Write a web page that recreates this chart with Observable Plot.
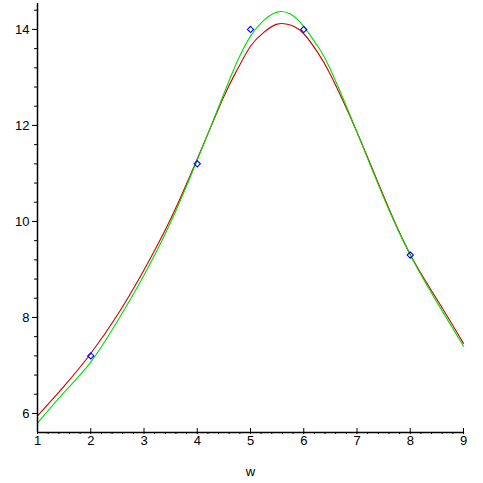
<!DOCTYPE html>
<html>
<head>
<meta charset="utf-8">
<script src="https://cdn.jsdelivr.net/npm/d3@7"></script>
<script src="https://cdn.jsdelivr.net/npm/@observablehq/plot@0.6"></script>
<style>
  html, body { margin: 0; padding: 0; background: #fff; }
  #chart svg { display: block; }
</style>
</head>
<body>
<div id="chart"></div>
<script>
// Data
const dataW = [2, 4, 5, 6, 8];
const dataY = [7.2, 11.2, 14, 14, 9.3];

const curveW = [1, 1.5, 2, 2.5, 3, 3.5, 4, 4.5, 4.75, 5, 5.25, 5.5, 5.75, 6, 6.25, 6.5, 7, 7.5, 8, 8.5, 9];
const redY   = [5.95, 6.57, 7.25, 8.05, 8.99, 10.05, 11.3, 12.6, 13.16, 13.65, 13.94, 14.11, 14.09, 13.91, 13.54, 13.06, 11.86, 10.53, 9.31, 8.38, 7.46];
const greenY = [5.80, 6.44, 7.07, 7.92, 8.88, 9.98, 11.28, 12.66, 13.33, 13.86, 14.19, 14.36, 14.32, 14.06, 13.67, 13.17, 11.86, 10.5, 9.3, 8.32, 7.40];

const xMajor = [1, 2, 3, 4, 5, 6, 7, 8, 9];
const xMinor = d3.range(1, 9.001, 0.2).map(v => +v.toFixed(1));
const yMajor = [6, 8, 10, 12, 14];
const yMinor = d3.range(5.6, 14.55, 0.4).map(v => +v.toFixed(1)).filter(v => v >= 5.61);
const xDomain = [1, 9];
const yDomain = [5.604, 14.54];
const xLabel = "w";

const red = curveW.map((w, i) => ({w, y: redY[i]}));
const green = curveW.map((w, i) => ({w, y: greenY[i]}));
const pts = dataW.map((w, i) => ({w, y: dataY[i]}));

const font = "'Liberation Sans', Arial, sans-serif";

const chart = Plot.plot({
  width: 483,
  height: 483,
  marginLeft: 37,
  marginRight: 20,
  marginTop: 3,
  marginBottom: 51,
  style: {fontFamily: font, fontSize: "13px", background: "#fff", color: "#000"},
  x: {domain: xDomain},
  y: {domain: yDomain},
  marks: [
    Plot.line(red, {x: "w", y: "y", stroke: "#cc0000", strokeWidth: 1.1, curve: "natural"}),
    Plot.line(green, {x: "w", y: "y", stroke: "#00dd00", strokeWidth: 1.1, curve: "natural"}),
    Plot.dot(pts, {x: "w", y: "y", symbol: "diamond2", r: 2.8, stroke: "#0000ff", strokeWidth: 1.1}),
    // axes lines
    Plot.ruleY([yDomain[0]], {stroke: "#000", strokeWidth: 1.5}),
    Plot.ruleX([xDomain[0]], {stroke: "#000", strokeWidth: 1.5}),
    // x ticks
    Plot.axisX(xMinor, {tickSize: 2, tickFormat: () => "", stroke: "#000", label: null}),
    Plot.axisX(xMajor, {tickSize: -4, tickFormat: () => "", stroke: "#000", label: null}),
    Plot.axisX(xMajor, {tickSize: 0, tickPadding: 3, fontSize: 13, label: null}),
    // y ticks
    Plot.axisY(yMinor, {tickSize: 3, tickFormat: () => "", stroke: "#000", label: null}),
    Plot.axisY(yMajor, {tickSize: 5, tickPadding: 3, fontSize: 13, label: null}),
    Plot.text([xLabel], {frameAnchor: "bottom", dy: 43, fontSize: 13})
  ]
});
document.getElementById("chart").appendChild(chart);
</script>
</body>
</html>
